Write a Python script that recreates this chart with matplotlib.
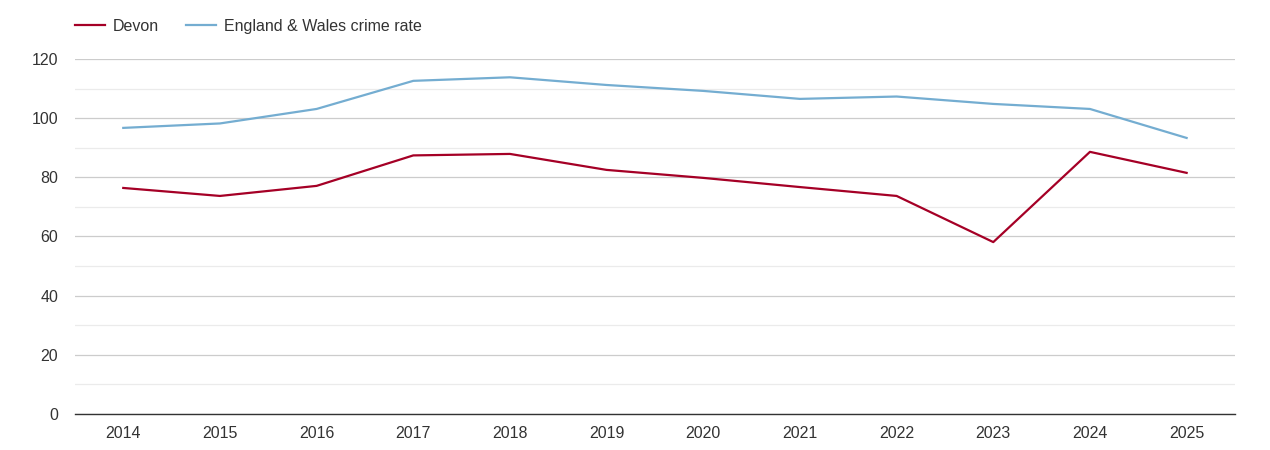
import matplotlib
matplotlib.use("Agg")
import matplotlib.pyplot as plt
from matplotlib.ticker import MultipleLocator

plt.rcParams['font.family'] = ['Liberation Sans', 'DejaVu Sans']

# data
years = ['2014', '2015', '2016', '2017', '2018', '2019',
         '2020', '2021', '2022', '2023', '2024', '2025']
devon = [76.4, 73.7, 77.1, 87.4, 87.9, 82.5, 79.8, 76.7, 73.7, 58.1, 88.6, 81.5]
england_wales = [96.7, 98.2, 103.1, 112.6, 113.8, 111.2, 109.2, 106.5, 107.3, 104.8, 103.1, 93.3]

devon_color = '#a50026'
ew_color = '#74add1'

fig = plt.figure(figsize=(12.7, 4.5), dpi=100)
ax = fig.add_axes([0.059, 0.08, 0.9134, 0.789])

x = range(len(years))
ax.plot(x, devon, color=devon_color, lw=1.6, label='Devon')
ax.plot(x, england_wales, color=ew_color, lw=1.6, label='England & Wales crime rate')

ax.set_xlim(-0.5, len(years) - 0.5)
ax.set_ylim(0, 120)
ax.set_xticks(list(x))
ax.set_xticklabels(years)
ax.yaxis.set_major_locator(MultipleLocator(20))
ax.yaxis.set_minor_locator(MultipleLocator(10))

ax.grid(axis='y', which='major', color='#cccccc', lw=0.9)
ax.grid(axis='y', which='minor', color='#ebebeb', lw=0.9)
ax.set_axisbelow(True)

for s in ['top', 'right', 'left']:
    ax.spines[s].set_visible(False)
ax.spines['bottom'].set_color('#333333')
ax.spines['bottom'].set_linewidth(1)

ax.tick_params(axis='both', which='both', length=0, labelsize=11.5, colors='#333333')
ax.tick_params(axis='x', pad=9)
ax.tick_params(axis='y', pad=12)

leg = fig.legend(loc='upper left', bbox_to_anchor=(0.0475, 0.99), ncol=2, frameon=False,
                 fontsize=11.5, handlelength=1.9, handletextpad=0.5, columnspacing=1.65)
for t in leg.get_texts():
    t.set_color('#333333')

fig.savefig('out.png', dpi=100)
